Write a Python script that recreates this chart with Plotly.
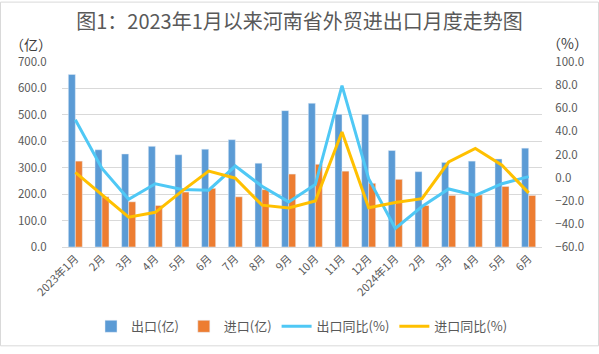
import plotly.graph_objects as go

months = ["2023年1月", "2月", "3月", "4月", "5月", "6月", "7月", "8月", "9月", "10月",
          "11月", "12月", "2024年1月", "2月", "3月", "4月", "5月", "6月"]
cats = [f"c{i}" for i in range(len(months))]

export_val = [653, 368, 352, 381, 349, 370, 406, 317, 516, 544, 502, 502, 365, 285, 320, 325, 333, 374]
import_val = [325, 190, 171, 157, 208, 222, 190, 217, 276, 313, 287, 241, 256, 157, 195, 197, 229, 195]
export_yoy = [50.0, 8.0, -18.7, -5.3, -10.3, -10.9, 10.0, -7.5, -21.0, -6.0, 79.5, -1.0, -44.0, -25.0, -9.8, -15.4, -5.3, 0.9]
import_yoy = [4.5, -15.0, -34.2, -30.0, -11.7, 5.7, -0.5, -23.8, -26.3, -20.2, 39.4, -26.0, -21.6, -18.2, 13.5, 25.3, 10.7, -13.2]

FONT = "Noto Sans CJK SC"
GREY = "#595959"

fig = go.Figure()
fig.add_trace(go.Bar(x=cats, y=export_val, name="出口(亿)", marker_color="#5B9BD5", yaxis="y"))
fig.add_trace(go.Bar(x=cats, y=import_val, name="进口(亿)", marker_color="#ED7D31", yaxis="y"))
fig.add_trace(go.Scatter(x=cats, y=export_yoy, name="出口同比(%)", mode="lines",
                         line=dict(color="#4FC8F5", width=3), yaxis="y2"))
fig.add_trace(go.Scatter(x=cats, y=import_yoy, name="进口同比(%)", mode="lines",
                         line=dict(color="#FFC000", width=3), yaxis="y2"))

W, H = 599, 354
L, R, T, B = 62, 57, 62, 102
pw, ph = W - L - R, H - T - B

fig.update_layout(
    width=W, height=H,
    margin=dict(l=L, r=R, t=T, b=B),
    paper_bgcolor="white", plot_bgcolor="white",
    font=dict(family=FONT, color=GREY, size=11),
    barmode="group", bargap=0.475, bargroupgap=0,
    title=dict(text="图1：2023年1月以来河南省外贸进出口月度走势图", x=0.5, xref="container",
               y=1 - 22 / H, yref="container", yanchor="middle", xanchor="center",
               font=dict(size=20, color=GREY, family=FONT)),
    xaxis=dict(tickmode="array", tickvals=cats, ticktext=months, tickangle=-45,
               showline=True, linecolor="#D9D9D9", linewidth=1, ticks="",
               tickfont=dict(size=11, color=GREY), showgrid=False),
    yaxis=dict(range=[0, 700], dtick=100, tickformat=".1f", showgrid=True,
               gridcolor="#D9D9D9", gridwidth=1, zeroline=False,
               ticks="outside", ticklen=12, tickcolor="rgba(0,0,0,0)",
               tickfont=dict(size=11.5, color=GREY)),
    yaxis2=dict(range=[-60, 100], dtick=20, tickformat=".1f", overlaying="y", side="right",
                showgrid=False, zeroline=False,
                ticks="outside", ticklen=10, tickcolor="rgba(0,0,0,0)",
                tickfont=dict(size=11.5, color=GREY)),
    legend=dict(orientation="h", x=0.5, xanchor="center", y=-(333.5 - (H - B)) / ph,
                yanchor="middle", font=dict(size=13, color=GREY), traceorder="normal",
                itemwidth=30, bgcolor="rgba(0,0,0,0)"),
    annotations=[
        dict(text="（亿）", xref="paper", yref="paper", x=(31 - L) / pw, y=1 + (T - 44) / ph,
             showarrow=False, xanchor="center", yanchor="middle",
             font=dict(size=14, color="#404040", family=FONT)),
        dict(text="（%）", xref="paper", yref="paper", x=(567 - L) / pw, y=1 + (T - 43) / ph,
             showarrow=False, xanchor="center", yanchor="middle",
             font=dict(size=14, color="#404040", family=FONT)),
    ],
    shapes=[
        dict(type="rect", xref="paper", yref="paper",
             x0=-(L - 0.5) / pw, x1=1 + (R - 0.5) / pw,
             y0=-(B - 0.5) / ph, y1=1 + (T - 0.5) / ph,
             line=dict(color="#D9D9D9", width=1), fillcolor="rgba(0,0,0,0)", layer="below"),
    ],
)

fig.write_html("out.html")
